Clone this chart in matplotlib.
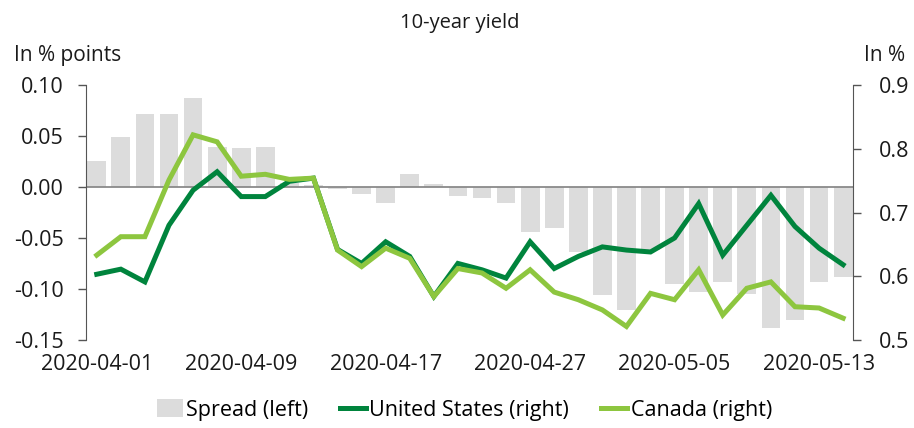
import numpy as np
import matplotlib
matplotlib.use("Agg")
import matplotlib.pyplot as plt
from matplotlib.patches import Patch
from matplotlib.lines import Line2D

plt.rcParams["font.family"] = ["Open Sans", "DejaVu Sans"]

# business days shown on the x axis
dates = [
    "2020-04-01", "2020-04-02", "2020-04-03", "2020-04-06", "2020-04-07", "2020-04-08",
    "2020-04-09", "2020-04-10", "2020-04-13", "2020-04-14", "2020-04-15", "2020-04-16",
    "2020-04-17", "2020-04-20", "2020-04-21", "2020-04-22", "2020-04-23", "2020-04-24",
    "2020-04-27", "2020-04-28", "2020-04-29", "2020-04-30", "2020-05-01", "2020-05-04",
    "2020-05-05", "2020-05-06", "2020-05-07", "2020-05-08", "2020-05-11", "2020-05-12",
    "2020-05-13", "2020-05-14",
]
tick_dates = ["2020-04-01", "2020-04-09", "2020-04-17", "2020-04-27", "2020-05-05", "2020-05-13"]

# spread, in % points (left axis)
spread = [
    0.026, 0.049, 0.072, 0.072, 0.087, 0.039, 0.038, 0.039, 0.004, 0.002,
    -0.002, -0.007, -0.016, 0.0125, 0.003, -0.009, -0.011, -0.0155, -0.044, -0.040,
    -0.064, -0.106, -0.121, -0.062, -0.095, -0.103, -0.093, -0.105, -0.138, -0.131,
    -0.093, -0.088,
]
# 10-year yields, in % (right axis)
us = [
    0.603, 0.611, 0.591, 0.680, 0.735, 0.764, 0.725, 0.725, 0.749, 0.754,
    0.642, 0.620, 0.654, 0.631, 0.568, 0.620, 0.610, 0.597, 0.654, 0.612,
    0.631, 0.646, 0.641, 0.638, 0.660, 0.714, 0.633, 0.680, 0.727, 0.678,
    0.644, 0.618,
]
canada = [
    0.633, 0.662, 0.662, 0.751, 0.822, 0.811, 0.757, 0.760, 0.752, 0.754,
    0.641, 0.615, 0.644, 0.628, 0.568, 0.612, 0.605, 0.581, 0.610, 0.575,
    0.563, 0.547, 0.521, 0.573, 0.563, 0.610, 0.539, 0.581, 0.591, 0.552,
    0.550, 0.534,
]

GREY = "#dcdcdc"
DARK = "#00843d"
LIGHT = "#8dc63f"
TXT = "#1a1a1a"

x = np.arange(len(dates))

fig = plt.figure(figsize=(9.14, 4.28), dpi=100)
ax = fig.add_axes([0.094, 0.206, 0.839, 0.595])
ax.bar(x, spread, width=0.78, color=GREY, zorder=1)
ax.axhline(0, color="#8a8a8a", lw=1.3, zorder=2)
ax.set_ylim(-0.15, 0.10)
ax.set_yticks([-0.15, -0.10, -0.05, 0.00, 0.05, 0.10])
ax.set_yticklabels(["-0.15", "-0.10", "-0.05", "0.00", "0.05", "0.10"])
ax.set_xlim(-0.45, 31.4)
ax.set_xticks([dates.index(d) for d in tick_dates])
ax.set_xticklabels(tick_dates)

ax2 = ax.twinx()
ax2.plot(x, us, color=DARK, lw=3.6, solid_joinstyle="miter", zorder=3)
ax2.plot(x, canada, color=LIGHT, lw=3.6, solid_joinstyle="miter", zorder=3)
ax2.set_ylim(0.5, 0.9)
ax2.set_yticks([0.5, 0.6, 0.7, 0.8, 0.9])
ax2.set_yticklabels(["0.5", "0.6", "0.7", "0.8", "0.9"])

for a in (ax, ax2):
    for s in ("top", "bottom"):
        a.spines[s].set_visible(False)
    a.spines["left"].set_color("#555555")
    a.spines["right"].set_color("#555555")
ax.spines["right"].set_visible(False)
ax2.spines["left"].set_visible(False)

ax.tick_params(axis="y", length=6, width=1, color="#555555", pad=10, labelsize=15.5, labelcolor=TXT)
ax.tick_params(axis="x", length=0, pad=10, labelsize=15.5, labelcolor=TXT)
ax2.tick_params(axis="y", length=6, width=1, color="#555555", pad=13, labelsize=15.5, labelcolor=TXT)

fig.text(0.503, 0.946, "10-year yield", ha="center", va="center", fontsize=14.5, color=TXT)
fig.text(0.015, 0.871, "In % points", ha="left", va="center", fontsize=15, color=TXT)
fig.text(0.99, 0.871, "In %", ha="right", va="center", fontsize=15, color=TXT)

handles = [
    Patch(facecolor=GREY, edgecolor="none"),
    Line2D([0], [0], color=DARK, lw=3.6),
    Line2D([0], [0], color=LIGHT, lw=3.6),
]
labels = ["Spread (left)", "United States (right)", "Canada (right)"]
fig.legend(handles, labels, loc="center", bbox_to_anchor=(0.508, 0.042), ncol=3, frameon=False,
           prop={"size": 15.5}, handlelength=1.2, handletextpad=0.15, columnspacing=1.5,
           handleheight=0.9)

fig.savefig("out.png", dpi=100)
